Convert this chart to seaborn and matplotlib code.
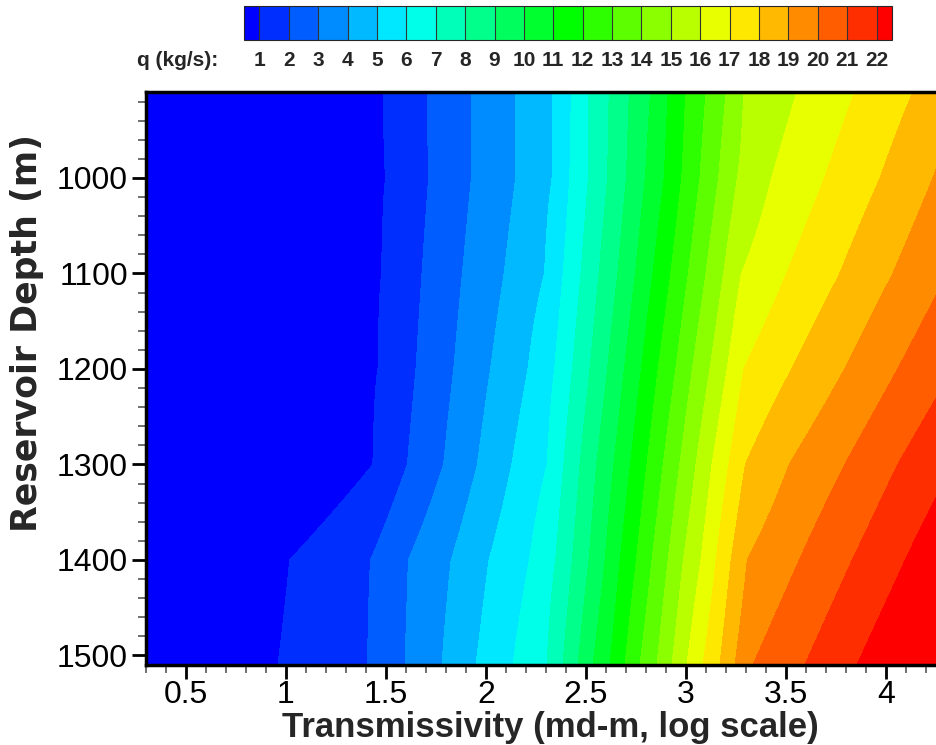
import colorsys
import numpy as np
import matplotlib
matplotlib.use("Agg")
import matplotlib.pyplot as plt
from matplotlib.ticker import MultipleLocator
import seaborn as sns

# ---- data ----
# flow-rate contour levels (kg/s)
levels = list(range(1, 23))
# depths (m) of the rows where contour crossings were read
depths = [910, 1000, 1100, 1200, 1300, 1400, 1510]
# log10 transmissivity where q crosses level 1, 2, 3, ... on each row
cross_910 = [1.486, 1.705, 1.927, 2.149, 2.331, 2.427, 2.515, 2.616, 2.717, 2.823,
             2.911, 2.999, 3.100, 3.201, 3.289, 3.554, 3.844, 4.135]
cross_1000 = [1.498, 1.713, 1.927, 2.149, 2.331, 2.419, 2.512, 2.608, 2.702, 2.797,
              2.891, 2.979, 3.070, 3.163, 3.257, 3.428, 3.693, 3.971, 4.235]
cross_1100 = [1.478, 1.680, 1.882, 2.091, 2.293, 2.386, 2.475, 2.565, 2.659, 2.747,
              2.835, 2.924, 3.012, 3.100, 3.188, 3.277, 3.504, 3.769, 4.034]
cross_1200 = [1.460, 1.650, 1.839, 2.023, 2.210, 2.343, 2.432, 2.520, 2.608, 2.692,
              2.777, 2.861, 2.949, 3.032, 3.120, 3.206, 3.289, 3.529, 3.794, 4.059]
cross_1300 = [1.435, 1.607, 1.788, 1.957, 2.129, 2.306, 2.389, 2.470, 2.553, 2.639,
              2.722, 2.805, 2.886, 2.969, 3.050, 3.130, 3.214, 3.297, 3.516, 3.794, 4.059]
cross_1400 = [1.019, 1.423, 1.612, 1.826, 2.015, 2.217, 2.348, 2.432, 2.515, 2.596,
              2.671, 2.752, 2.830, 2.911, 2.987, 3.075, 3.151, 3.226, 3.307, 3.567,
              3.832, 4.097]
cross_1510 = [0.960, 1.408, 1.595, 1.780, 1.950, 2.135, 2.305, 2.385, 2.460, 2.535,
              2.620, 2.695, 2.770, 2.855, 2.930, 3.005, 3.085, 3.170, 3.245, 3.335,
              3.595, 3.855]
# q at the left / right plot edges on each row
q_left = [-1.0, -1.0, -1.0, -1.0, -2.0, -0.8, -0.8]
q_right = [18.5, 19.2, 19.9, 20.8, 21.8, 22.7, 23.6]
x_left, x_right = 0.3, 4.28
xticks = [0.5, 1, 1.5, 2, 2.5, 3, 3.5, 4]
yticks = [1000, 1100, 1200, 1300, 1400, 1500]

rows = [cross_910, cross_1000, cross_1100, cross_1200, cross_1300, cross_1400, cross_1510]

# ---- build field ----
xs = np.linspace(x_left, x_right, 900)
Q = []
for r, ql, qr in zip(rows, q_left, q_right):
    xp = [x_left] + r + [x_right]
    fp = [ql] + levels[:len(r)] + [qr]
    Q.append(np.interp(xs, xp, fp))
Q = np.array(Q)
X, Y = np.meshgrid(xs, depths)

# ---- style ----
sns.set_style("ticks")
plt.rcParams["font.family"] = ["Liberation Sans", "DejaVu Sans"]

hues = np.linspace(240, 0, len(levels) + 1) / 360.0
colors = sns.color_palette([colorsys.hls_to_rgb(h, 0.5, 1.0) for h in hues])

fig = plt.figure(figsize=(9.37, 7.45), dpi=100)
ax = fig.add_axes([146 / 937, 1 - 665 / 745, (942 - 146) / 937, (665 - 92) / 745])

cs = ax.contourf(X, Y, Q, levels=levels, colors=colors[1:-1], extend="both")
cs.cmap.set_under(colors[0])
cs.cmap.set_over(colors[-1])

ax.set_xlim(x_left, x_right)
ax.set_ylim(1510, 910)
ax.set_xticks(xticks)
ax.set_xticklabels([f"{t:g}" for t in xticks])
ax.set_yticks(yticks)
ax.xaxis.set_minor_locator(MultipleLocator(0.1))
ax.yaxis.set_minor_locator(MultipleLocator(20))
ax.tick_params(which="major", direction="out", length=10, width=2, labelsize=23,
               color="black", labelcolor="black", pad=3)
ax.tick_params(axis="x", which="major", pad=1)
ax.tick_params(which="minor", direction="out", length=6, width=1.2, color="#555555")
for s in ["left", "top", "bottom"]:
    ax.spines[s].set_linewidth(2.5)
    ax.spines[s].set_color("black")
ax.spines["right"].set_visible(False)

ax.set_xlabel("Transmissivity (md-m, log scale)", fontsize=25, fontweight="bold")
ax.xaxis.set_label_coords(0.5075, -0.08)
ax.set_ylabel("Reservoir Depth (m)", fontsize=25, fontweight="bold",
              family=["DejaVu Sans"])
ax.yaxis.set_label_coords(-0.128, 0.58)

# ---- colorbar ----
cax = fig.add_axes([244 / 937, 1 - 40 / 745, 648 / 937, 34 / 745])
cb = fig.colorbar(cs, cax=cax, orientation="horizontal", extend="both",
                  extendrect=True, extendfrac=0.025, drawedges=True, ticks=levels)
cb.outline.set_linewidth(0.8)
cb.dividers.set_linewidth(0.8)
cb.dividers.set_color("#333333")
cax.tick_params(length=0, pad=8, labelsize=15)
for t in cax.get_xticklabels():
    t.set_fontweight("bold")
fig.text(218 / 937, 1 - 60 / 745, "q (kg/s):", ha="right", va="center",
         fontsize=15, fontweight="bold")

fig.savefig("out.png", dpi=100)
